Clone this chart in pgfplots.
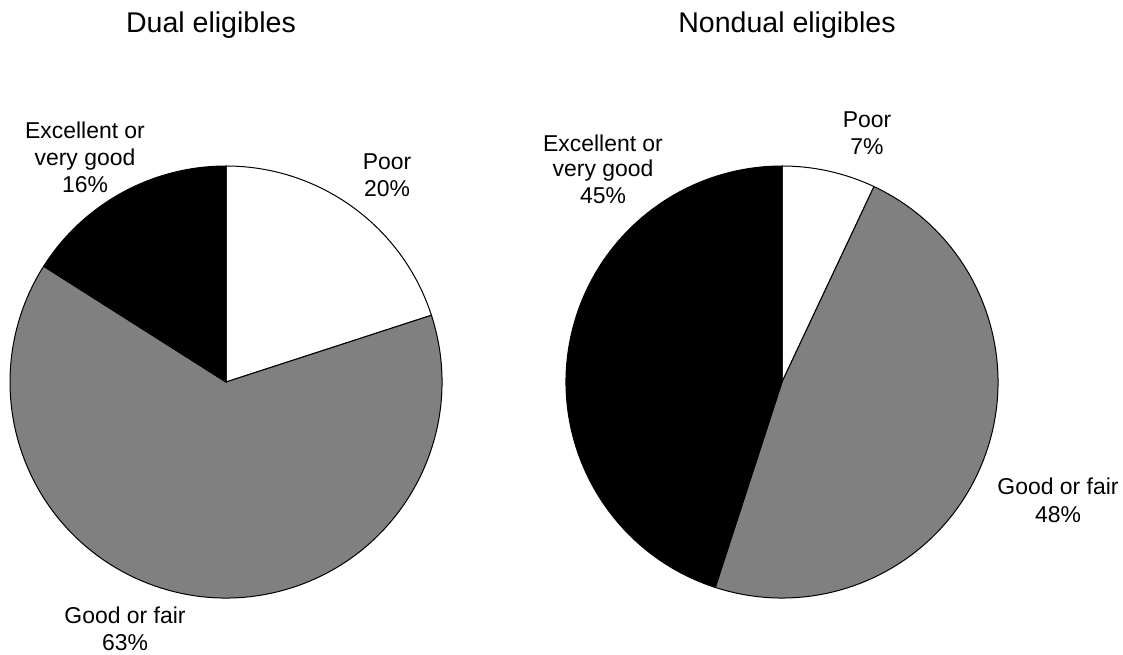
\documentclass[border=0pt]{standalone}
\usepackage{pgfplots}
\pgfplotsset{compat=1.18}
\usepackage{fontspec}
\setmainfont{Liberation Sans}
\definecolor{piegray}{RGB}{128,128,128}
% data (percent)
\def\dualPoor{20}
\def\dualGood{63}
\def\dualExc{16}
\def\nonPoor{7}
\def\nonGood{48}
\def\nonExc{45}
\def\R{162pt}
\tikzset{
  lbl/.style={font=\fontsize{17.2pt}{20pt}\selectfont, anchor=base, inner sep=0pt},
  ttl/.style={font=\fontsize{21.4pt}{25pt}\selectfont, anchor=base, inner sep=0pt},
}
\begin{document}
\begin{tikzpicture}
\begin{axis}[
  scale only axis, width=842.25pt, height=490.5pt,
  xmin=0, xmax=1123, ymin=0, ymax=654,
  hide axis, clip=false,
]
\path[draw=none] (axis cs:0,0) rectangle (axis cs:1123,654);
% ---- Dual eligibles (center 226,272) ----
\filldraw[fill=white, draw=black, line width=0.75pt] (axis cs:226,272) -- ++(90:\R) arc[start angle=90, end angle={90-3.6*\dualPoor}, radius=\R] -- cycle;
\filldraw[fill=piegray, draw=black, line width=0.75pt] (axis cs:226,272) -- ++({90-3.6*\dualPoor}:\R) arc[start angle={90-3.6*\dualPoor}, end angle={90+3.6*\dualExc-360}, radius=\R] -- cycle;
\filldraw[fill=black, draw=black, line width=0.75pt] (axis cs:226,272) -- ++({90+3.6*\dualExc}:\R) arc[start angle={90+3.6*\dualExc}, end angle=90, radius=\R] -- cycle;
% ---- Nondual eligibles (center 782,272) ----
\filldraw[fill=white, draw=black, line width=0.75pt] (axis cs:782,272) -- ++(90:\R) arc[start angle=90, end angle={90-3.6*\nonPoor}, radius=\R] -- cycle;
\filldraw[fill=piegray, draw=black, line width=0.75pt] (axis cs:782,272) -- ++({90-3.6*\nonPoor}:\R) arc[start angle={90-3.6*\nonPoor}, end angle={90+3.6*\nonExc-360}, radius=\R] -- cycle;
\filldraw[fill=black, draw=black, line width=0.75pt] (axis cs:782,272) -- ++({90+3.6*\nonExc}:\R) arc[start angle={90+3.6*\nonExc}, end angle=90, radius=\R] -- cycle;
% ---- titles ----
\node[ttl] at (axis cs:211,621) {Dual eligibles};
\node[ttl] at (axis cs:787,621) {Nondual eligibles};
% ---- labels, left ----
\node[lbl] at (axis cs:85,515) {Excellent or};
\node[lbl] at (axis cs:85,488) {very good};
\node[lbl] at (axis cs:85,461) {16\%};
\node[lbl] at (axis cs:387,484) {Poor};
\node[lbl] at (axis cs:387,457) {20\%};
\node[lbl] at (axis cs:125,31) {Good or fair};
\node[lbl] at (axis cs:125,4) {63\%};
% ---- labels, right ----
\node[lbl] at (axis cs:603,502) {Excellent or};
\node[lbl] at (axis cs:603,477) {very good};
\node[lbl] at (axis cs:603,450) {45\%};
\node[lbl] at (axis cs:867,526) {Poor};
\node[lbl] at (axis cs:867,499) {7\%};
\node[lbl] at (axis cs:1058,160) {Good or fair};
\node[lbl] at (axis cs:1058,132) {48\%};
\end{axis}
\end{tikzpicture}
\end{document}
